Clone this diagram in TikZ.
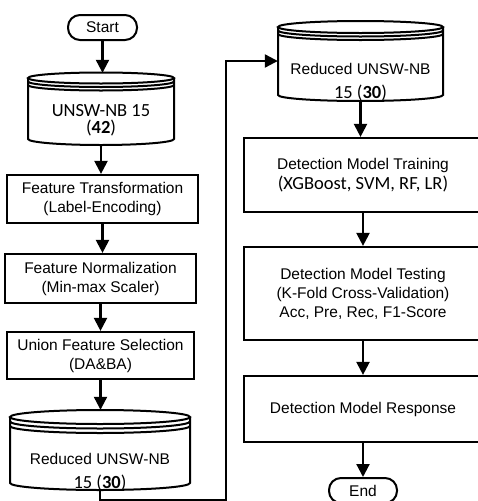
\documentclass[tikz,border=0pt]{standalone}
\usepackage{fontspec}
\setmainfont{Liberation Sans}
\newfontfamily\calfont{Carlito}
\usetikzlibrary{arrows.meta}
\begin{document}
\begin{tikzpicture}[x=1pt,y=1pt,
  every node/.style={font=\fontsize{15.5}{19}\selectfont, inner sep=0pt, align=center},
  proc/.style={draw, line width=2.2pt},
  term/.style={draw, line width=2pt, rounded corners=12pt},
  cylshape/.style={draw=none},
  cylline/.style={line width=2pt},
  arr/.style={line width=2.2pt, -{Triangle[length=13pt,width=13pt]}},
  cal/.style={font=\calfont\fontsize{18.5}{19}\selectfont}]
\useasboundingbox (0,0) rectangle (478,-501);

% ---------- left column ----------
\node[term, minimum width=69pt, minimum height=25pt] (start) at (102.5,-27.5) {Start};

% cylinder 1
\node[cylshape, minimum width=146pt, minimum height=72pt] (c1) at (101,-109) {};
\draw[cylline] (28,-78) -- (28,-139) arc[start angle=180,end angle=360,x radius=73pt,y radius=6pt] -- (174,-78);
\draw[cylline,fill=white] (101,-78) ellipse [x radius=73pt, y radius=5.5pt];
\draw[cylline] (28,-81.5) arc[start angle=180,end angle=360,x radius=73pt,y radius=5.5pt];
\draw[cylline] (28,-85) arc[start angle=180,end angle=360,x radius=73pt,y radius=5.5pt];
\node[cal] (c1t) at (101,-120) {UNSW-NB 15\\[-2pt](\textbf{42})};

\node[proc, minimum width=191pt, minimum height=48pt] (b1) at (102.5,-199) {Feature Transformation\\(Label-Encoding)};
\node[proc, minimum width=191pt, minimum height=49pt] (b2) at (100.5,-278.5) {Feature Normalization\\(Min-max Scaler)};
\node[proc, minimum width=187pt, minimum height=47pt] (b3) at (100.5,-355.5) {Union Feature Selection\\(DA\&BA)};

% cylinder 2
\node[cylshape, minimum width=180pt, minimum height=80pt] (c2) at (100,-450) {};
\draw[cylline] (10,-417) -- (10,-483) arc[start angle=180,end angle=360,x radius=90pt,y radius=7pt] -- (190,-417);
\draw[cylline,fill=white] (100,-417) ellipse [x radius=90pt, y radius=7pt];
\draw[cylline] (10,-421.5) arc[start angle=180,end angle=360,x radius=90pt,y radius=7pt];
\draw[cylline] (10,-426) arc[start angle=180,end angle=360,x radius=90pt,y radius=7pt];
\node (c2a) at (100,-459) {Reduced UNSW-NB};
\node[cal] (c2b) at (100,-483) {15 (\textbf{30})};

% ---------- right column ----------
% cylinder 3
\node[cylshape, minimum width=165pt, minimum height=80pt] (c3) at (360.5,-61) {};
\draw[cylline] (278,-27) -- (278,-95) arc[start angle=180,end angle=360,x radius=82.5pt,y radius=6pt] -- (443,-27);
\draw[cylline,fill=white] (360.5,-27) ellipse [x radius=82.5pt, y radius=6pt];
\draw[cylline] (278,-30.5) arc[start angle=180,end angle=360,x radius=82.5pt,y radius=6pt];
\draw[cylline] (278,-34) arc[start angle=180,end angle=360,x radius=82.5pt,y radius=6pt];
\node (c3a) at (360.5,-69) {Reduced UNSW-NB};
\node[cal] (c3b) at (360.5,-93) {15 (\textbf{30})};

\node[proc, minimum width=238pt, minimum height=74pt] (b4) at (363,-175) {Detection Model Training\\[1pt]{\calfont\fontsize{18.5}{19}\selectfont (XGBoost, SVM, RF, LR)}};
\node[proc, minimum width=238pt, minimum height=93pt] (b5) at (363,-293.5) {Detection Model Testing\\(K-Fold Cross-Validation)\\Acc, Pre, Rec, F1-Score};
\node[proc, minimum width=238pt, minimum height=66pt] (b6) at (363,-409) {Detection Model Response};
\node[term, minimum width=68pt, minimum height=25pt] (end) at (363,-490.5) {End};

% ---------- connectors ----------
\coordinate (j1) at (226,-500);
\draw[arr] (start.south) -- (start.south |- c1.north);
\draw[arr] (c1.south) -- (c1.south |- b1.north);
\draw[arr] (b1.south) -- (b1.south |- b2.north);
\draw[arr] (b2.south) -- (b2.south |- b3.north);
\draw[arr] (b3.south) -- (b3.south |- c2.north);
\draw[arr] (c2.south) |- (j1) |- (c3.west);
\draw[arr] (c3.south) -- (c3.south |- b4.north);
\draw[arr] (b4.south) -- (b4.south |- b5.north);
\draw[arr] (b5.south) -- (b5.south |- b6.north);
\draw[arr] (b6.south) -- (b6.south |- end.north);
\end{tikzpicture}
\end{document}
